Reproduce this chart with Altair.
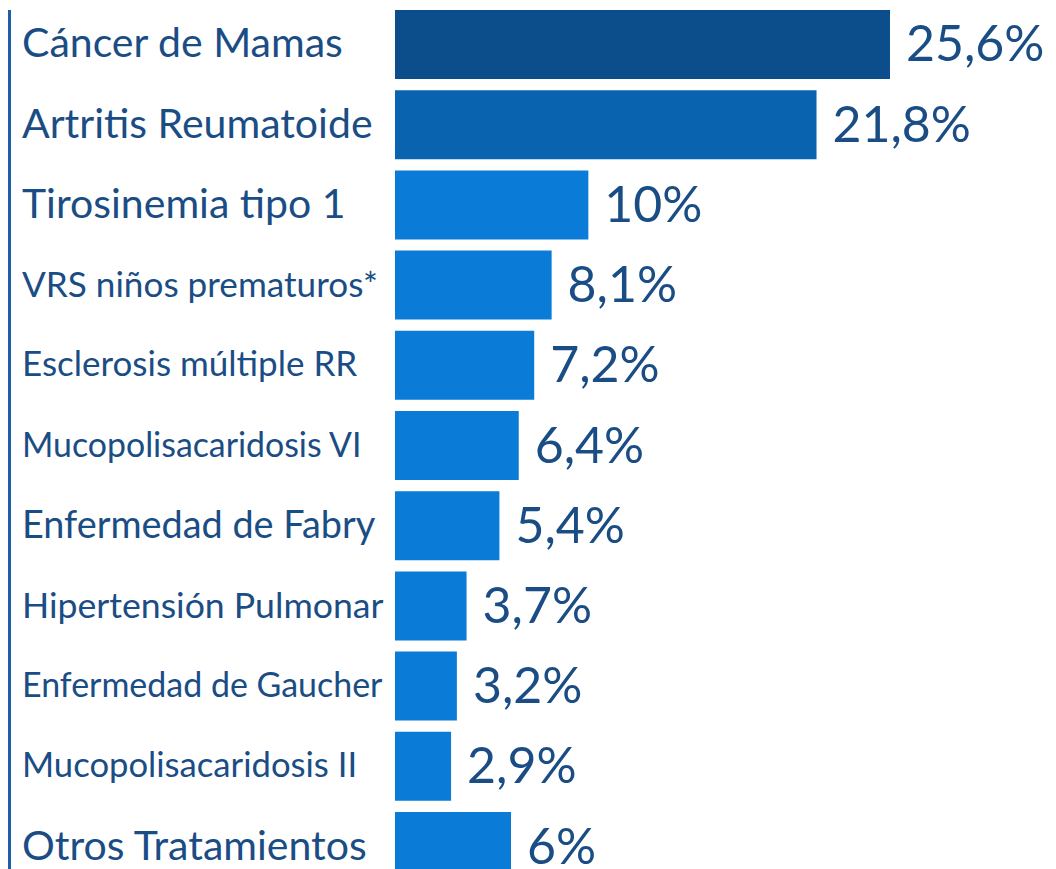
import altair as alt
import pandas as pd

categories = [
    "Cáncer de Mamas",
    "Artritis Reumatoide",
    "Tirosinemia tipo 1",
    "VRS niños prematuros*",
    "Esclerosis múltiple RR",
    "Mucopolisacaridosis VI",
    "Enfermedad de Fabry",
    "Hipertensión Pulmonar",
    "Enfermedad de Gaucher",
    "Mucopolisacaridosis II",
    "Otros Tratamientos",
]
values = [25.6, 21.8, 10, 8.1, 7.2, 6.4, 5.4, 3.7, 3.2, 2.9, 6]

bar_colors = ["#0b4e8b", "#0a63ae"] + ["#0a7bd6"] * 9
text_color = "#1b4d85"
line_color = "#1f5fa6"

df = pd.DataFrame({"categoria": categories, "valor": values})

H = 871
y_enc = alt.Y("categoria:N", sort=categories, axis=None,
              scale=alt.Scale(paddingInner=0.14, paddingOuter=0))
x_scale = alt.Scale(domain=[0, 25.6], range=[387, 882], nice=False, zero=True)

base = alt.Chart(df)

bars = base.mark_bar().encode(
    y=y_enc,
    x=alt.X("valor:Q", scale=x_scale, axis=None),
    color=alt.Color("categoria:N", scale=alt.Scale(domain=categories, range=bar_colors), legend=None),
)

values_txt = base.transform_calculate(
    etiqueta="replace(format(datum.valor, '.1~f'), '.', ',') + '%'"
).mark_text(
    align="left", baseline="middle", dx=16, dy=2, font="Lato", fontSize=50, color=text_color
).encode(
    y=y_enc,
    x=alt.X("valor:Q", scale=x_scale, axis=None),
    text="etiqueta:N",
)

labels = base.transform_calculate(
    n="length(datum.categoria)",
    narrow="length(datum.categoria) - length(replace(datum.categoria, regexp('[iltfjrI1 ,*]', 'g'), ''))",
    wide="length(datum.categoria) - length(replace(datum.categoria, regexp('[A-Zmw]', 'g'), ''))",
).transform_calculate(
    em="0.54*datum.n - 0.25*datum.narrow + 0.15*datum.wide"
).transform_calculate(
    fs="min(41, 358/datum.em)"
).mark_text(
    align="left", baseline="middle", font="Lato", color=text_color, dy=1
).encode(
    y=y_enc,
    x=alt.value(14),
    text="categoria:N",
    size=alt.Size("fs:Q", scale=None, legend=None),
)

vline = alt.Chart(pd.DataFrame({"a": [0]})).mark_rule(
    color=line_color, strokeWidth=3
).encode(x=alt.value(1.5), y=alt.value(0), y2=alt.value(H))

chart = alt.layer(vline, bars, labels, values_txt).properties(
    width=1040, height=H, padding=0, background="white"
).configure_view(stroke=None)

chart.save("out.html", embed_options={"renderer": "svg", "actions": False})
